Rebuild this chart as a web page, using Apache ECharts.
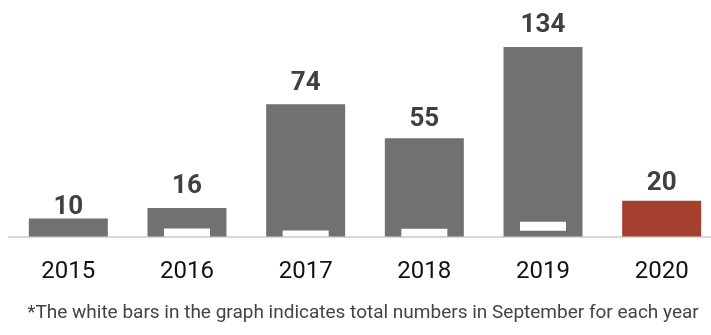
<!DOCTYPE html>
<html>
<head>
<meta charset="utf-8">
<script src="https://cdn.jsdelivr.net/npm/echarts@6/dist/echarts.min.js"></script>
<style>
html,body{margin:0;padding:0;background:#fff;overflow:hidden;width:711px;height:335px;}
#chart{width:725px;height:335px;}
</style>
</head>
<body>
<div id="chart"></div>
<script>
// ---- data ----
const years = ['2015', '2016', '2017', '2018', '2019', '2020'];
const totals = [10, 16, 74, 55, 134, 20];
// September totals (white bars) in the chart's scale
const septOffset = [0, 0, 0, 0, 3.2, 0];
const septValues = [null, 4.5, 3.4, 4.3, 5.1, null];
const footnote = '*The white bars in the graph indicates total numbers in September for each year';

// ---- style config ----
const GRAY = '#717171';
const RED = '#A5402E';
const labelDistance = [-2, 8, 8, 6, 9, 4];
const FONT = 'Roboto, "Noto Sans", sans-serif';

const chart = echarts.init(document.getElementById('chart'), null, {renderer: 'canvas'});

const totalData = totals.map((v, i) => ({
  value: v,
  itemStyle: {color: i === totals.length - 1 ? RED : GRAY},
  label: {distance: labelDistance[i]}
}));

const option = {
  backgroundColor: '#ffffff',
  animation: false,
  graphic: [{
    type: 'text',
    x: 363,
    y: 313,
    style: {
      text: footnote,
      font: 'normal 19px ' + FONT,
      fill: '#444444',
      textAlign: 'center',
      textVerticalAlign: 'middle'
    }
  }],
  grid: {left: 9, top: 47, right: 4, height: 189.5, containLabel: false},
  xAxis: [{
    type: 'category',
    data: years,
    axisLine: {show: true, lineStyle: {color: '#d9d9d9', width: 2}},
    axisTick: {show: false},
    axisLabel: {fontFamily: FONT, fontSize: 24, color: '#111111', margin: 23}
  }, {
    type: 'category',
    data: years,
    show: false
  }],
  yAxis: {
    type: 'value',
    min: 0,
    max: 106,
    show: false,
    splitLine: {show: false}
  },
  series: [{
    type: 'bar',
    xAxisIndex: 0,
    data: totalData,
    barWidth: 79,
    clip: true,
    label: {
      show: true,
      position: 'top',
      fontFamily: FONT,
      fontWeight: 'bold',
      fontSize: 26,
      color: '#404040'
    },
    z: 1
  }, {
    type: 'bar',
    xAxisIndex: 1,
    stack: 'sept',
    data: septOffset,
    barWidth: 46,
    itemStyle: {color: 'rgba(0,0,0,0)'},
    silent: true,
    z: 3
  }, {
    type: 'bar',
    xAxisIndex: 1,
    stack: 'sept',
    data: septValues,
    barWidth: 46,
    itemStyle: {color: '#ffffff'},
    z: 3
  }]
};
chart.setOption(option);
</script>
</body>
</html>
